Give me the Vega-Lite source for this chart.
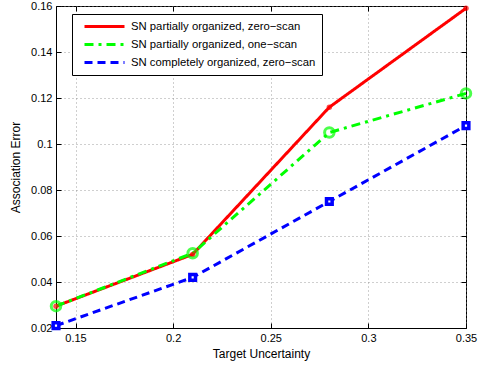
{
  "$schema": "https://vega.github.io/schema/vega-lite/v6.json",
  "width": 410,
  "height": 322,
  "autosize": {"type": "none"},
  "padding": {"left": 56, "top": 6, "right": 16, "bottom": 39},
  "background": "white",
  "config": {
    "font": "Liberation Sans",
    "view": {"stroke": "black", "strokeWidth": 1},
    "axis": {
      "domainColor": "black",
      "tickColor": "black",
      "labelColor": "black",
      "titleColor": "black",
      "labelFontSize": 11,
      "titleFontSize": 12,
      "titleFontWeight": "normal",
      "grid": true,
      "gridColor": "#888888",
      "gridDash": [1, 3],
      "gridOpacity": 0.8,
      "tickSize": -5,
      "labelPadding": 9,
      "labelFlush": false,
      "labelOverlap": false
    },
    "legend": {
      "orient": "none",
      "legendX": 16,
      "legendY": 8,
      "fillColor": "white",
      "strokeColor": "black",
      "padding": 6,
      "labelFontSize": 11.3,
      "labelColor": "black",
      "labelLimit": 0,
      "labelExpr": "datum.label + '\u00a0\u00a0\u00a0\u00a0\u00a0\u00a0'",
      "symbolType": "M0,0H8",
      "symbolSize": 100,
      "symbolStrokeWidth": 3,
      "rowPadding": 5,
      "labelOffset": 40,
      "title": null
    }
  },
  "data": {
    "values": [
      {"series": "SN partially organized, zero−scan", "u": 0.14, "err": 0.0295},
      {"series": "SN partially organized, zero−scan", "u": 0.21, "err": 0.052},
      {"series": "SN partially organized, zero−scan", "u": 0.28, "err": 0.116},
      {"series": "SN partially organized, zero−scan", "u": 0.35, "err": 0.159},
      {"series": "SN partially organized, one−scan", "u": 0.14, "err": 0.0295},
      {"series": "SN partially organized, one−scan", "u": 0.21, "err": 0.0525},
      {"series": "SN partially organized, one−scan", "u": 0.28, "err": 0.105},
      {"series": "SN partially organized, one−scan", "u": 0.35, "err": 0.122},
      {"series": "SN completely organized, zero−scan", "u": 0.14, "err": 0.021},
      {"series": "SN completely organized, zero−scan", "u": 0.21, "err": 0.042},
      {"series": "SN completely organized, zero−scan", "u": 0.28, "err": 0.075},
      {"series": "SN completely organized, zero−scan", "u": 0.35, "err": 0.108}
    ]
  },
  "layer": [
    {
      "mark": {"type": "line", "strokeWidth": 3, "clip": true},
      "encoding": {
        "x": {"field": "u", "type": "quantitative", "scale": {"domain": [0.14, 0.35], "nice": false, "zero": false},
              "axis": {"title": "Target Uncertainty", "values": [0.15, 0.2, 0.25, 0.3, 0.35], "format": "~g", "titlePadding": 5}},
        "y": {"field": "err", "type": "quantitative", "scale": {"domain": [0.02, 0.16], "nice": false, "zero": false},
              "axis": {"title": "Association Error", "values": [0.02, 0.04, 0.06, 0.08, 0.1, 0.12, 0.14, 0.16], "format": "~g", "labelPadding": 9, "titlePadding": 8}},
        "color": {"field": "series", "type": "nominal",
                  "scale": {"domain": ["SN partially organized, zero−scan", "SN partially organized, one−scan", "SN completely organized, zero−scan"],
                            "range": ["#ff0000", "#00ff00", "#0000ff"]}},
        "strokeDash": {"field": "series", "type": "nominal",
                  "scale": {"domain": ["SN partially organized, zero−scan", "SN partially organized, one−scan", "SN completely organized, zero−scan"],
                            "range": [[1, 0], [9, 5, 3, 5], [8, 5]]}},
        "order": {"field": "u"}
      }
    },
    {
      "mark": {"type": "point", "filled": true, "size": 30, "color": "#ff0000"},
      "transform": [{"filter": "datum.series === 'SN partially organized, zero−scan'"}],
      "encoding": {
        "x": {"field": "u", "type": "quantitative", "axis": {"orient": "top", "labels": false, "title": null, "grid": false, "values": [0.15, 0.2, 0.25, 0.3, 0.35], "domain": false}},
        "y": {"field": "err", "type": "quantitative", "axis": {"orient": "right", "labels": false, "title": null, "grid": false, "values": [0.02, 0.04, 0.06, 0.08, 0.1, 0.12, 0.14, 0.16], "domain": false}}
      }
    },
    {
      "mark": {"type": "point", "filled": false, "size": 90, "strokeWidth": 3, "color": "#00ff00"},
      "transform": [{"filter": "datum.series === 'SN partially organized, one−scan'"}],
      "encoding": {
        "x": {"field": "u", "type": "quantitative", "axis": null},
        "y": {"field": "err", "type": "quantitative", "axis": null}
      }
    },
    {
      "mark": {"type": "square", "size": 32, "strokeWidth": 3.5, "stroke": "#0000ff", "fill": "white", "fillOpacity": 1, "opacity": 1},
      "transform": [{"filter": "datum.series === 'SN completely organized, zero−scan'"}],
      "encoding": {
        "x": {"field": "u", "type": "quantitative", "axis": null},
        "y": {"field": "err", "type": "quantitative", "axis": null}
      }
    }
  ],
  "resolve": {"axis": {"x": "independent", "y": "independent"}}
}
